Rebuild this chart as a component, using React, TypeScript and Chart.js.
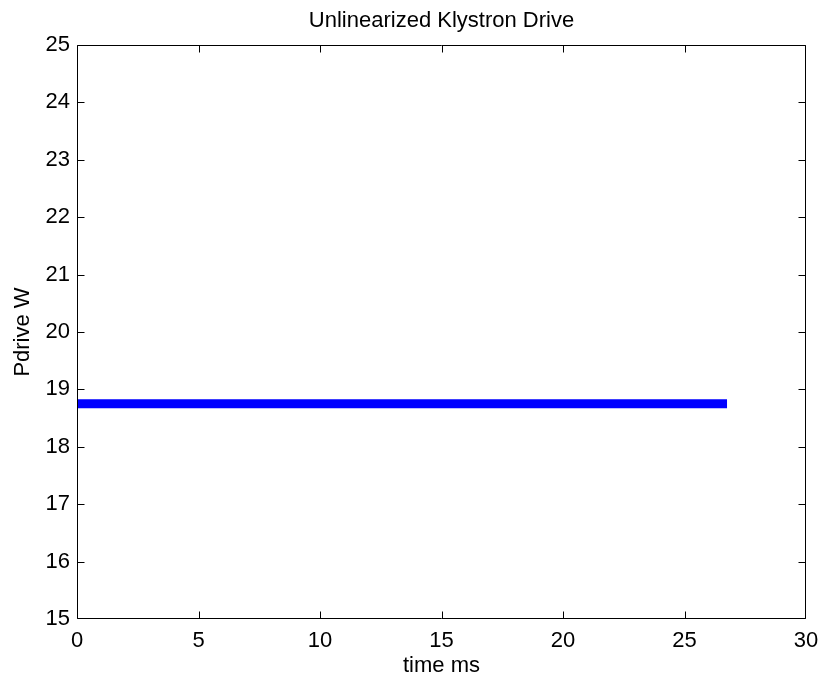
import React, { useEffect, useRef } from "react";
import { Chart, registerables } from "chart.js";

Chart.register(...registerables);

const titleText = "Unlinearized Klystron Drive";
const xLabel = "time ms";
const yLabel = "Pdrive W";
const timeMs = [0, 26.75];
const pdriveW = [18.75, 18.75];
const xMin = 0, xMax = 30, xStep = 5;
const yMin = 15, yMax = 25, yStep = 1;

const FONT = "'Liberation Sans', Arial, Helvetica, sans-serif";

const boxPlugin = {
  id: "matlabBox",
  afterDraw(chart: any) {
    const { ctx, chartArea } = chart;
    const { left, right, top, bottom } = chartArea;
    const L = Math.round(left) + 0.5;
    const R = Math.round(right) - 0.5;
    const T = Math.round(top) + 0.5;
    const B = Math.round(bottom) - 0.5;
    ctx.save();
    ctx.strokeStyle = "#000";
    ctx.lineWidth = 1;
    ctx.beginPath();
    ctx.rect(L, T, R - L, B - T);
    const len = 7;
    const xs = chart.scales.x;
    xs.ticks.forEach((t: any) => {
      let px = Math.round(xs.getPixelForValue(t.value)) + 0.5;
      px = Math.min(Math.max(px, L), R);
      ctx.moveTo(px, B);
      ctx.lineTo(px, B - len);
      ctx.moveTo(px, T);
      ctx.lineTo(px, T + len);
    });
    const ys = chart.scales.y;
    ys.ticks.forEach((t: any) => {
      let py = Math.round(ys.getPixelForValue(t.value)) + 0.5;
      py = Math.min(Math.max(py, T), B);
      ctx.moveTo(L, py);
      ctx.lineTo(L + len, py);
      ctx.moveTo(R, py);
      ctx.lineTo(R - len, py);
    });
    ctx.stroke();
    // title centred over the axes, as MATLAB does
    ctx.fillStyle = "#000";
    ctx.font = `22px ${FONT}`;
    ctx.textAlign = "center";
    ctx.textBaseline = "alphabetic";
    ctx.fillText(titleText, (left + right) / 2, 27);
    ctx.restore();
  },
};

export default function App() {
  const ref = useRef<HTMLCanvasElement>(null);
  useEffect(() => {
    document.body.style.margin = "0";
    const canvas = ref.current!;
    const chart = new Chart(canvas, {
      type: "line",
      data: {
        datasets: [
          {
            data: timeMs.map((x, i) => ({ x, y: pdriveW[i] })),
            borderColor: "#0000ff",
            backgroundColor: "#0000ff",
            borderWidth: 9,
            pointRadius: 0,
            tension: 0,
            borderCapStyle: "butt",
          },
        ],
      },
      options: {
        responsive: false,
        animation: false,
        devicePixelRatio: 1,
        layout: { padding: { left: 0, right: 15, top: 45, bottom: 0 } },
        plugins: {
          legend: { display: false },
          tooltip: { enabled: false },
          title: { display: false },
        },
        scales: {
          x: {
            type: "linear",
            min: xMin,
            max: xMax,
            grid: { display: false, drawTicks: false },
            border: { display: false },
            ticks: {
              stepSize: xStep,
              color: "#000",
              font: { family: FONT, size: 22 },
              padding: 9,
              maxRotation: 0,
            },
            title: {
              display: true,
              text: xLabel,
              color: "#000",
              font: { family: FONT, size: 22, lineHeight: 1 },
              padding: { top: 0, bottom: 0 },
            },
            afterFit(scale: any) {
              scale.height = 58;
              scale.paddingLeft = 0;
              scale.paddingRight = 0;
            },
          },
          y: {
            type: "linear",
            min: yMin,
            max: yMax,
            grid: { display: false, drawTicks: false },
            border: { display: false },
            ticks: {
              stepSize: yStep,
              color: "#000",
              font: { family: FONT, size: 22 },
              padding: 7,
            },
            title: {
              display: true,
              text: yLabel,
              color: "#000",
              font: { family: FONT, size: 22, lineHeight: 1 },
              padding: { top: 12, bottom: 0 },
            },
            afterFit(scale: any) {
              scale.width = 77;
              scale.paddingTop = 0;
              scale.paddingBottom = 0;
            },
          },
        },
      },
      plugins: [boxPlugin],
    });
    return () => chart.destroy();
  }, []);
  return (
    <div style={{ width: 821, height: 677, background: "#fff" }}>
      <canvas ref={ref} width={821} height={677} style={{ display: "block" }} />
    </div>
  );
}
